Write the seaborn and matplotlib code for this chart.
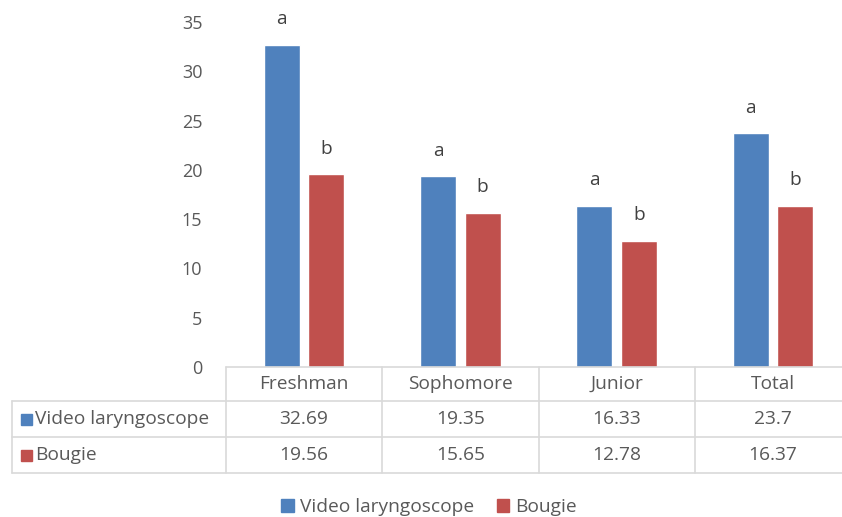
import pandas as pd
import seaborn as sns
import matplotlib.pyplot as plt
from matplotlib.patches import Rectangle
from matplotlib.lines import Line2D
from matplotlib.transforms import blended_transform_factory

# data
categories = ['Freshman', 'Sophomore', 'Junior', 'Total']
series = ['Video laryngoscope', 'Bougie']
video_laryngoscope = [32.69, 19.35, 16.33, 23.7]
bougie = [19.56, 15.65, 12.78, 16.37]
video_letters = ['a', 'a', 'a', 'a']
bougie_letters = ['b', 'b', 'b', 'b']
video_labels = ['32.69', '19.35', '16.33', '23.7']
bougie_labels = ['19.56', '15.65', '12.78', '16.37']

blue = '#4F81BD'
red = '#C0504D'
text_col = '#595959'
grid_col = '#D9D9D9'

df = pd.DataFrame({
    'Category': categories * 2,
    'Series': [series[0]] * 4 + [series[1]] * 4,
    'Value': video_laryngoscope + bougie,
})

sns.set_style('white')
plt.rcParams['font.family'] = ['Open Sans', 'DejaVu Sans']
fs = 13.8

W, H = 842, 517
fig = plt.figure(figsize=(W / 100, H / 100), dpi=100)
ax = fig.add_axes([226 / W, 1 - 367 / H, 625 / W, (367 - 22) / H])

sns.barplot(data=df, x='Category', y='Value', hue='Series', order=categories,
            hue_order=series, palette=[blue, red], width=0.57, gap=0.19,
            saturation=1, ax=ax, legend=False)

ax.set_xlim(-0.5, 3.5)
ax.set_ylim(0, 35)
ax.set_yticks(range(0, 36, 5))
ax.set_xticks([])
ax.set_xlabel('')
ax.set_ylabel('')
ax.tick_params(axis='y', length=0, pad=17, labelsize=13, labelcolor=text_col)
sns.despine(ax=ax, left=True, bottom=True)

# significance letters above the bars
off = 0.57 / 4
for i in range(len(categories)):
    ax.text(i - off, video_laryngoscope[i] + 2.6, video_letters[i], ha='center',
            va='center', fontsize=fs, color='#404040', clip_on=False)
    ax.text(i + off, bougie[i] + 2.6, bougie_letters[i], ha='center',
            va='center', fontsize=fs, color='#404040', clip_on=False)

# data table under the plot
def fy(px):
    return 1 - px / H

tr = blended_transform_factory(ax.transData, fig.transFigure)
rows = [367, 401, 437, 473]
x_left = 12 / W
x_axes = 226 / W

for y in rows[1:]:
    fig.add_artist(Line2D([x_left, 1], [fy(y), fy(y)], color=grid_col, lw=1.2))
fig.add_artist(Line2D([x_axes, 1], [fy(rows[0]), fy(rows[0])], color=grid_col, lw=1.2))
fig.add_artist(Line2D([x_left, x_left], [fy(rows[1]), fy(rows[3])], color=grid_col, lw=1.2))
for b in [-0.5, 0.5, 1.5, 2.5]:
    fig.add_artist(Line2D([b, b], [fy(rows[0]), fy(rows[3])], color=grid_col,
                          lw=1.2, transform=tr))

for i, cat in enumerate(categories):
    fig.text(i, fy((rows[0] + rows[1]) / 2), cat, transform=tr, ha='center',
             va='center', fontsize=fs, color=text_col)
    fig.text(i, fy((rows[1] + rows[2]) / 2), video_labels[i], transform=tr,
             ha='center', va='center', fontsize=fs, color=text_col)
    fig.text(i, fy((rows[2] + rows[3]) / 2), bougie_labels[i], transform=tr,
             ha='center', va='center', fontsize=fs, color=text_col)

for r, (name, col) in enumerate(zip(series, [blue, red])):
    yc = (rows[r + 1] + rows[r + 2]) / 2
    fig.add_artist(Rectangle((21 / W, fy(yc + 6)), 11 / W, 11 / H,
                             color=col, transform=fig.transFigure))
    fig.text(35 / W, fy(yc), name, ha='left', va='center', fontsize=fs,
             color=text_col)

# bottom legend
handles = [Rectangle((0, 0), 1, 1, color=blue), Rectangle((0, 0), 1, 1, color=red)]
fig.legend(handles, series, loc='center', bbox_to_anchor=(429 / W, fy(507)),
           ncol=2, frameon=False, fontsize=fs, handlelength=0.65,
           handleheight=0.65, handletextpad=0.3, columnspacing=1.2,
           labelcolor=text_col)

fig.savefig('out.png', dpi=100)
